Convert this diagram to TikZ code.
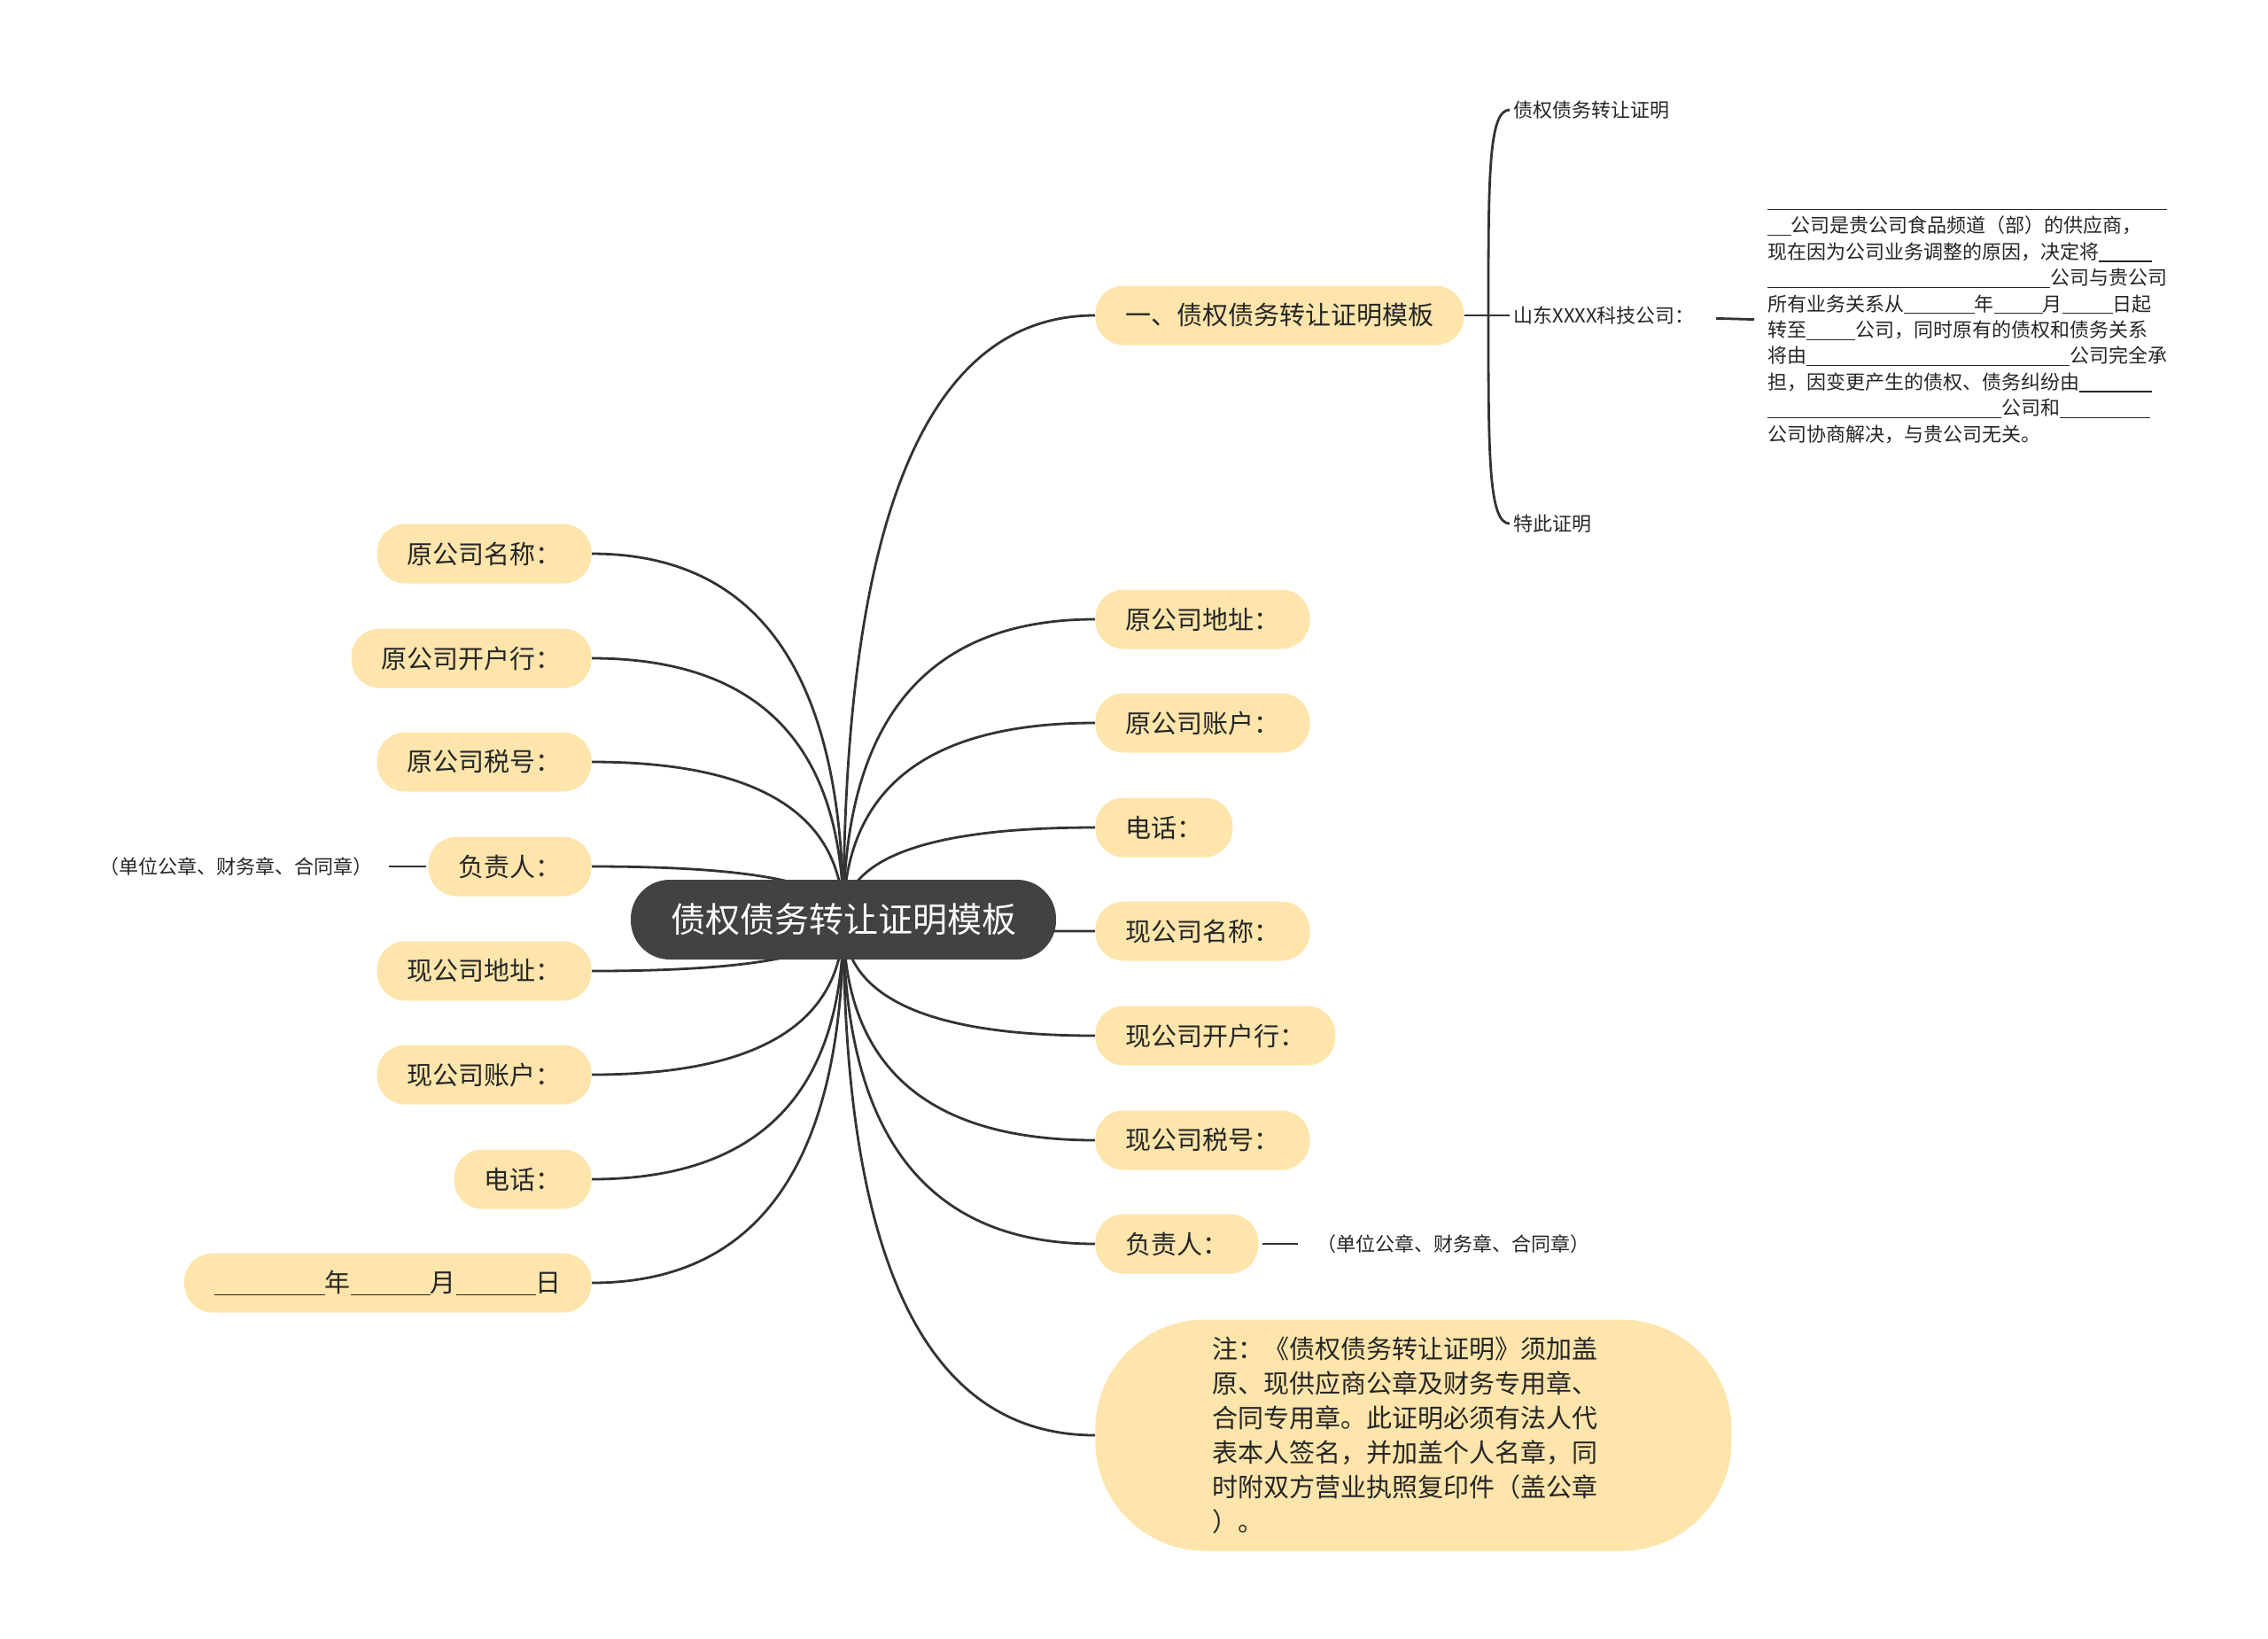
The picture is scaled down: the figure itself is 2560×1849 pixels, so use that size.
\documentclass[tikz,border=0pt]{standalone}
\usepackage{fontspec}
\setmainfont{Noto Sans CJK SC}
\usetikzlibrary{calc,backgrounds}

\definecolor{leaffill}{HTML}{FDE5AB}
\definecolor{hubfill}{HTML}{424242}
\definecolor{linegray}{HTML}{333333}
\definecolor{inkgray}{HTML}{262626}

\tikzset{
  hub/.style={fill=hubfill, text=white, rounded corners=22pt, minimum height=45pt,
    inner xsep=22.5pt, inner ysep=0pt, font=\fontsize{19.5}{22}\selectfont},
  leaf/.style={fill=leaffill, text=inkgray, rounded corners=16pt, minimum height=33.5pt,
    inner xsep=17pt, inner ysep=0pt, font=\fontsize{14.5}{17}\selectfont},
  plain/.style={text=inkgray, inner sep=2pt, font=\fontsize{11}{14.7}\selectfont},
  edge/.style={draw=linegray, line width=1.4pt},
}
\newcommand\blank[1]{\rule[-0.15em]{#1em}{0.06em}}

\begin{document}
\begin{tikzpicture}[x=0.5pt,y=0.5pt]
  % page frame (2560 x 1849 px)
  \useasboundingbox (0,0) rectangle (2560,-1849);

  % central topic
  \node[hub] (root) at (952,-1038) {债权债务转让证明模板};

  % left side
  \foreach \nm/\yy/\txt in {l1/625/原公司名称：, l2/743/原公司开户行：, l3/860/原公司税号：,
      l4/978/负责人：, l5/1096/现公司地址：, l6/1213/现公司账户：, l7/1331/电话：}{
    \node[leaf, anchor=east] (\nm) at (668,-\yy) {\txt};
  }
  \node[leaf, anchor=east] (l8) at (668,-1448) {\blank{4.3}年\blank{3.1}月\blank{3.1}日};
  \node[plain, anchor=east] (lseal) at (425,-978) {（单位公章、财务章、合同章）};

  % right side
  \node[leaf, anchor=west] (r0) at (1236,-356) {一、债权债务转让证明模板};
  \foreach \nm/\yy/\txt in {r1/699/原公司地址：, r2/816/原公司账户：, r3/934/电话：,
      r4/1051/现公司名称：, r5/1169/现公司开户行：, r6/1287/现公司税号：, r7/1404/负责人：}{
    \node[leaf, anchor=west] (\nm) at (1236,-\yy) {\txt};
  }
  \node[plain, anchor=west] (rseal) at (1482,-1404) {（单位公章、财务章、合同章）};
  \node[leaf, anchor=west, rounded corners=62pt, minimum height=130.5pt, inner xsep=66pt,
    text width=227pt, align=left, font=\fontsize{14.5}{19.5}\selectfont] (note) at (1236,-1620)
    {注：《债权债务转让证明》须加盖\\原、现供应商公章及财务专用章、\\合同专用章。此证明必须有法人代\\表本人签名，并加盖个人名章，同\\时附双方营业执照复印件（盖公章\\）。};

  % sub-branch of r0
  \coordinate (spine) at (1680,-356);
  \node[plain, anchor=west] (t1) at (1704,-124) {债权债务转让证明};
  \node[plain, anchor=west] (t2) at (1704,-356) {山东XXXX科技公司：};
  \node[plain, anchor=west] (t3) at (1704,-591) {特此证明};
  \node[plain, anchor=west, align=left] (body) at (1991,-367)
    {\blank{20.5}\\
     \blank{1.2}公司是贵公司食品频道（部）的供应商，\\
     现在因为公司业务调整的原因，决定将\blank{2.7}\\
     \blank{14.5}公司与贵公司\\
     所有业务关系从\blank{3.6}年\blank{2.5}月\blank{2.6}日起\\
     转至\blank{2.5}公司，同时原有的债权和债务关系\\
     将由\blank{13.5}公司完全承\\
     担，因变更产生的债权、债务纠纷由\blank{3.7}\\
     \blank{12}公司和\blank{4.6}\\
     公司协商解决，与贵公司无关。};

  % connectors
  \begin{pgfonlayer}{background}
    \foreach \nm in {l1,l2,l3,l4,l5,l6,l7,l8}{
      \draw[edge] (root.center) .. controls ($(root.center)!.667!(root.center |- \nm.east)$)
        and ($(\nm.east)!.667!(root.center |- \nm.east)$) .. (\nm.east);
    }
    \foreach \nm in {r0,r1,r2,r3,r4,r5,r6,r7,note}{
      \draw[edge] (root.center) .. controls ($(root.center)!.667!(root.center |- \nm.west)$)
        and ($(\nm.west)!.667!(root.center |- \nm.west)$) .. (\nm.west);
    }
  \end{pgfonlayer}
  \draw[edge, shorten <=7pt, shorten >=1pt] (lseal) -- (l4);
  \draw[edge, shorten <=2pt, shorten >=8.5pt] (r7) -- (rseal);
  \draw[edge] (r0.east) -- (spine) -- (t2.west);
  \draw[edge] (spine) .. controls (1680,-200) and (1680,-124) .. (t1.west);
  \draw[edge] (spine) .. controls (1680,-512) and (1680,-591) .. (t3.west);
  \draw[edge, shorten <=10pt, shorten >=5.5pt] (t2) -- (body);
\end{tikzpicture}
\end{document}
